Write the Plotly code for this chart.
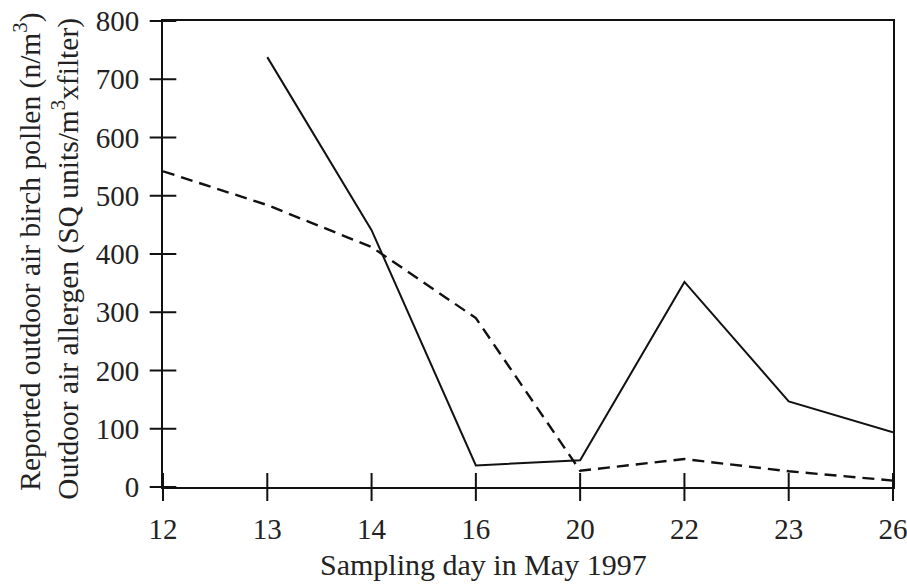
import plotly.graph_objects as go

days = ["12", "13", "14", "16", "20", "22", "23", "26"]
pollen = [None, 738, 441, 37, 46, 352, 147, 94]
allergen = [542, 484, 412, 290, 28, 48, 27, 11]
y_ticks = [0, 100, 200, 300, 400, 500, 600, 700, 800]

FONT = "Liberation Serif"
TXT = "#222"
INK = "#111"

fig = go.Figure()
fig.add_trace(go.Scatter(x=days, y=allergen, mode="lines",
                         line=dict(color=INK, width=2.4, dash="12px,7px"),
                         showlegend=False))
fig.add_trace(go.Scatter(x=days, y=pollen, mode="lines",
                         line=dict(color=INK, width=2),
                         connectgaps=False, showlegend=False))
# tick marks crossing the axes (drawn as line markers on the axis scales)
fig.add_trace(go.Scatter(x=days, y=[y_ticks[0]] * len(days), mode="markers",
                         marker=dict(symbol="line-ns-open", size=20, color=INK,
                                     line=dict(color=INK, width=2)),
                         cliponaxis=False, hoverinfo="skip", showlegend=False))
fig.add_trace(go.Scatter(x=[days[0]] * len(y_ticks), y=y_ticks, mode="markers",
                         marker=dict(symbol="line-ew-open", size=19, color=INK,
                                     line=dict(color=INK, width=2)),
                         cliponaxis=False, hoverinfo="skip", showlegend=False))

fig.update_layout(
    width=907, height=587,
    margin=dict(l=163, r=14, t=21, b=100),
    paper_bgcolor="white", plot_bgcolor="white",
    font=dict(family=FONT, size=29, color=TXT),
    xaxis=dict(type="category", range=[0, 7], showgrid=False, zeroline=False,
               showline=True, linecolor=INK, linewidth=2, mirror=True,
               ticks="outside", ticklen=10, tickwidth=2, tickcolor="rgba(0,0,0,0)",
               ticklabelstandoff=5, automargin=False,
               tickfont=dict(family=FONT, size=29, color=TXT)),
    yaxis=dict(range=[0, 800], tickvals=y_ticks, showgrid=False, zeroline=False,
               showline=True, linecolor=INK, linewidth=2, mirror=True,
               ticks="outside", ticklen=9, tickwidth=2, tickcolor="rgba(0,0,0,0)",
               ticklabelstandoff=7, automargin=False,
               tickfont=dict(family=FONT, size=29, color=TXT)),
    annotations=[
        dict(text="Sampling day in May 1997", xref="paper", yref="paper",
             x=(483 - 163) / 730, y=(487 - 564) / 466, xanchor="center", yanchor="middle",
             showarrow=False, font=dict(family=FONT, size=30, color=TXT)),
        dict(text="Reported outdoor air birch pollen (n/m<sup>3</sup>)",
             xref="paper", yref="paper", textangle=-90,
             x=(28 - 163) / 730, y=0.505, xanchor="center", yanchor="middle",
             showarrow=False, font=dict(family=FONT, size=29.5, color=TXT)),
        dict(text="Outdoor air allergen (SQ units/m<sup>3</sup>xfilter)",
             xref="paper", yref="paper", textangle=-90,
             x=(66 - 163) / 730, y=0.49, xanchor="center", yanchor="middle",
             showarrow=False, font=dict(family=FONT, size=29.5, color=TXT)),
    ],
)

fig.write_html("out.html", config={"displayModeBar": False},
               post_script="document.body.style.margin='0px';")
